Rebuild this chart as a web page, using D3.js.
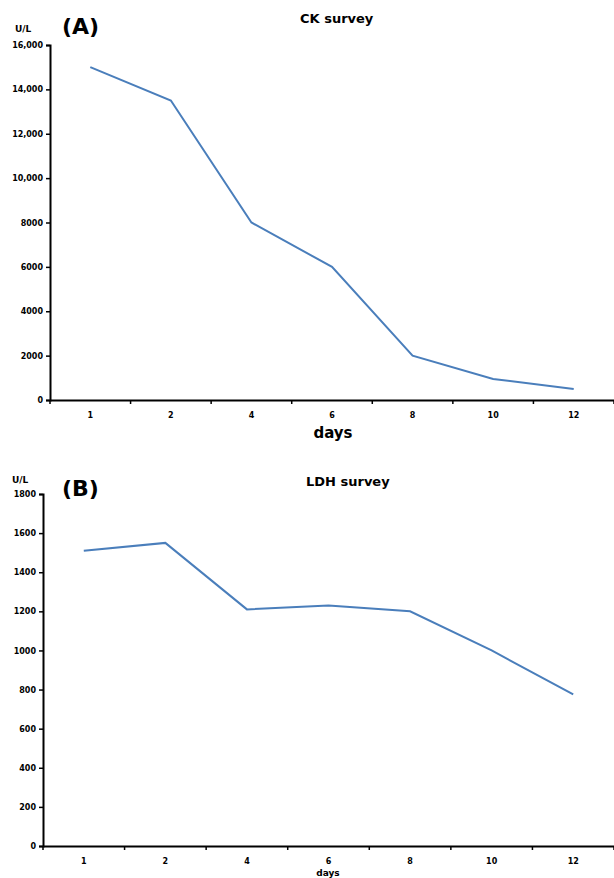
<!DOCTYPE html>
<html>
<head>
<meta charset="utf-8">
<script src="https://cdn.jsdelivr.net/npm/d3@7"></script>
<style>
body { margin: 0; background: #fff; }
text { font-family: "DejaVu Sans", Verdana, sans-serif; }
</style>
</head>
<body>
<div id="chart"></div>
<script>
// data
const days = ["1", "2", "4", "6", "8", "10", "12"];
const ckValues = [15000, 13500, 8000, 6000, 2000, 950, 500];
const ldhValues = [1510, 1550, 1210, 1230, 1200, 1000, 775];
const ckTicks = [0, 2000, 4000, 6000, 8000, 10000, 12000, 14000, 16000];
const ckTickLabels = ["0", "2000", "4000", "6000", "8000", "10,000", "12,000", "14,000", "16,000"];
const ldhTicks = [0, 200, 400, 600, 800, 1000, 1200, 1400, 1600, 1800];

const width = 614, height = 878;
const svg = d3.select("#chart").append("svg")
    .attr("width", width)
    .attr("height", height);

function drawPanel(opt) {
    const x = d3.scaleBand().domain(days).range([opt.left, 614]);
    const y = d3.scaleLinear().domain([0, opt.max]).range([opt.bottom, opt.top]);
    const g = svg.append("g");

    // y axis
    const yAxis = d3.axisLeft(y).tickValues(opt.ticks).tickSize(4)
        .tickFormat((d, i) => opt.labels ? opt.labels[i] : String(d));
    const ya = g.append("g").attr("transform", "translate(" + opt.left + ",0)").call(yAxis);
    ya.select(".domain").attr("stroke", "#000").attr("stroke-width", 2);
    ya.selectAll(".tick line").attr("stroke", "#000").attr("stroke-width", 1.5);
    ya.selectAll(".tick text").attr("font-size", 8).attr("font-weight", "bold").attr("x", -7).attr("fill", "#000");

    // x axis, ticks on band edges
    const xAxis = d3.axisBottom(x).tickSize(0);
    const xa = g.append("g").attr("transform", "translate(0," + opt.bottom + ")").call(xAxis);
    xa.select(".domain").attr("stroke", "#000").attr("stroke-width", 2);
    xa.selectAll(".tick text").attr("font-size", 8).attr("font-weight", "bold").attr("y", 12).attr("fill", "#000");
    xa.selectAll(".edge")
        .data(days.map(d => x(d)).concat([614]))
        .enter().append("line")
        .attr("x1", d => d).attr("x2", d => d)
        .attr("y1", 0).attr("y2", 4)
        .attr("stroke", "#000").attr("stroke-width", 1.5);

    // line
    const line = d3.line()
        .x((d, i) => x(days[i]) + x.bandwidth() / 2)
        .y(d => y(d));
    g.append("path")
        .datum(opt.values)
        .attr("fill", "none")
        .attr("stroke", "#4a7ebb")
        .attr("stroke-width", 2)
        .attr("d", line);

    // labels
    g.append("text").attr("x", opt.ulX).attr("y", opt.ulY)
        .attr("font-size", 9).attr("font-weight", "bold").text("U/L");
    g.append("text").attr("x", 62).attr("y", opt.letterY)
        .attr("font-family", "Liberation Sans, Arial, sans-serif")
        .attr("font-size", 22).attr("font-weight", "bold").text(opt.letter);
    g.append("text").attr("x", opt.titleX).attr("y", opt.titleY)
        .attr("font-family", "Open Sans, Calibri, sans-serif")
        .attr("font-size", 13).attr("font-weight", "bold").text(opt.title);
    g.append("text").attr("x", opt.daysX).attr("y", opt.daysY)
        .attr("text-anchor", "middle")
        .attr("font-family", "Open Sans, Calibri, sans-serif")
        .attr("font-size", opt.daysSize).attr("font-weight", opt.daysWeight).text("days");
}

drawPanel({
    values: ckValues, ticks: ckTicks, labels: ckTickLabels, max: 16000,
    left: 50, top: 45, bottom: 400,
    ulX: 15, ulY: 32, letter: "(A)", letterY: 34,
    title: "CK survey", titleX: 300, titleY: 23,
    daysX: 333, daysY: 438, daysSize: 15, daysWeight: "bold"
});

drawPanel({
    values: ldhValues, ticks: ldhTicks, labels: null, max: 1800,
    left: 43, top: 494, bottom: 846,
    ulX: 12, ulY: 483, letter: "(B)", letterY: 496,
    title: "LDH survey", titleX: 306, titleY: 486,
    daysX: 328, daysY: 876, daysSize: 9, daysWeight: "bold"
});
</script>
</body>
</html>
